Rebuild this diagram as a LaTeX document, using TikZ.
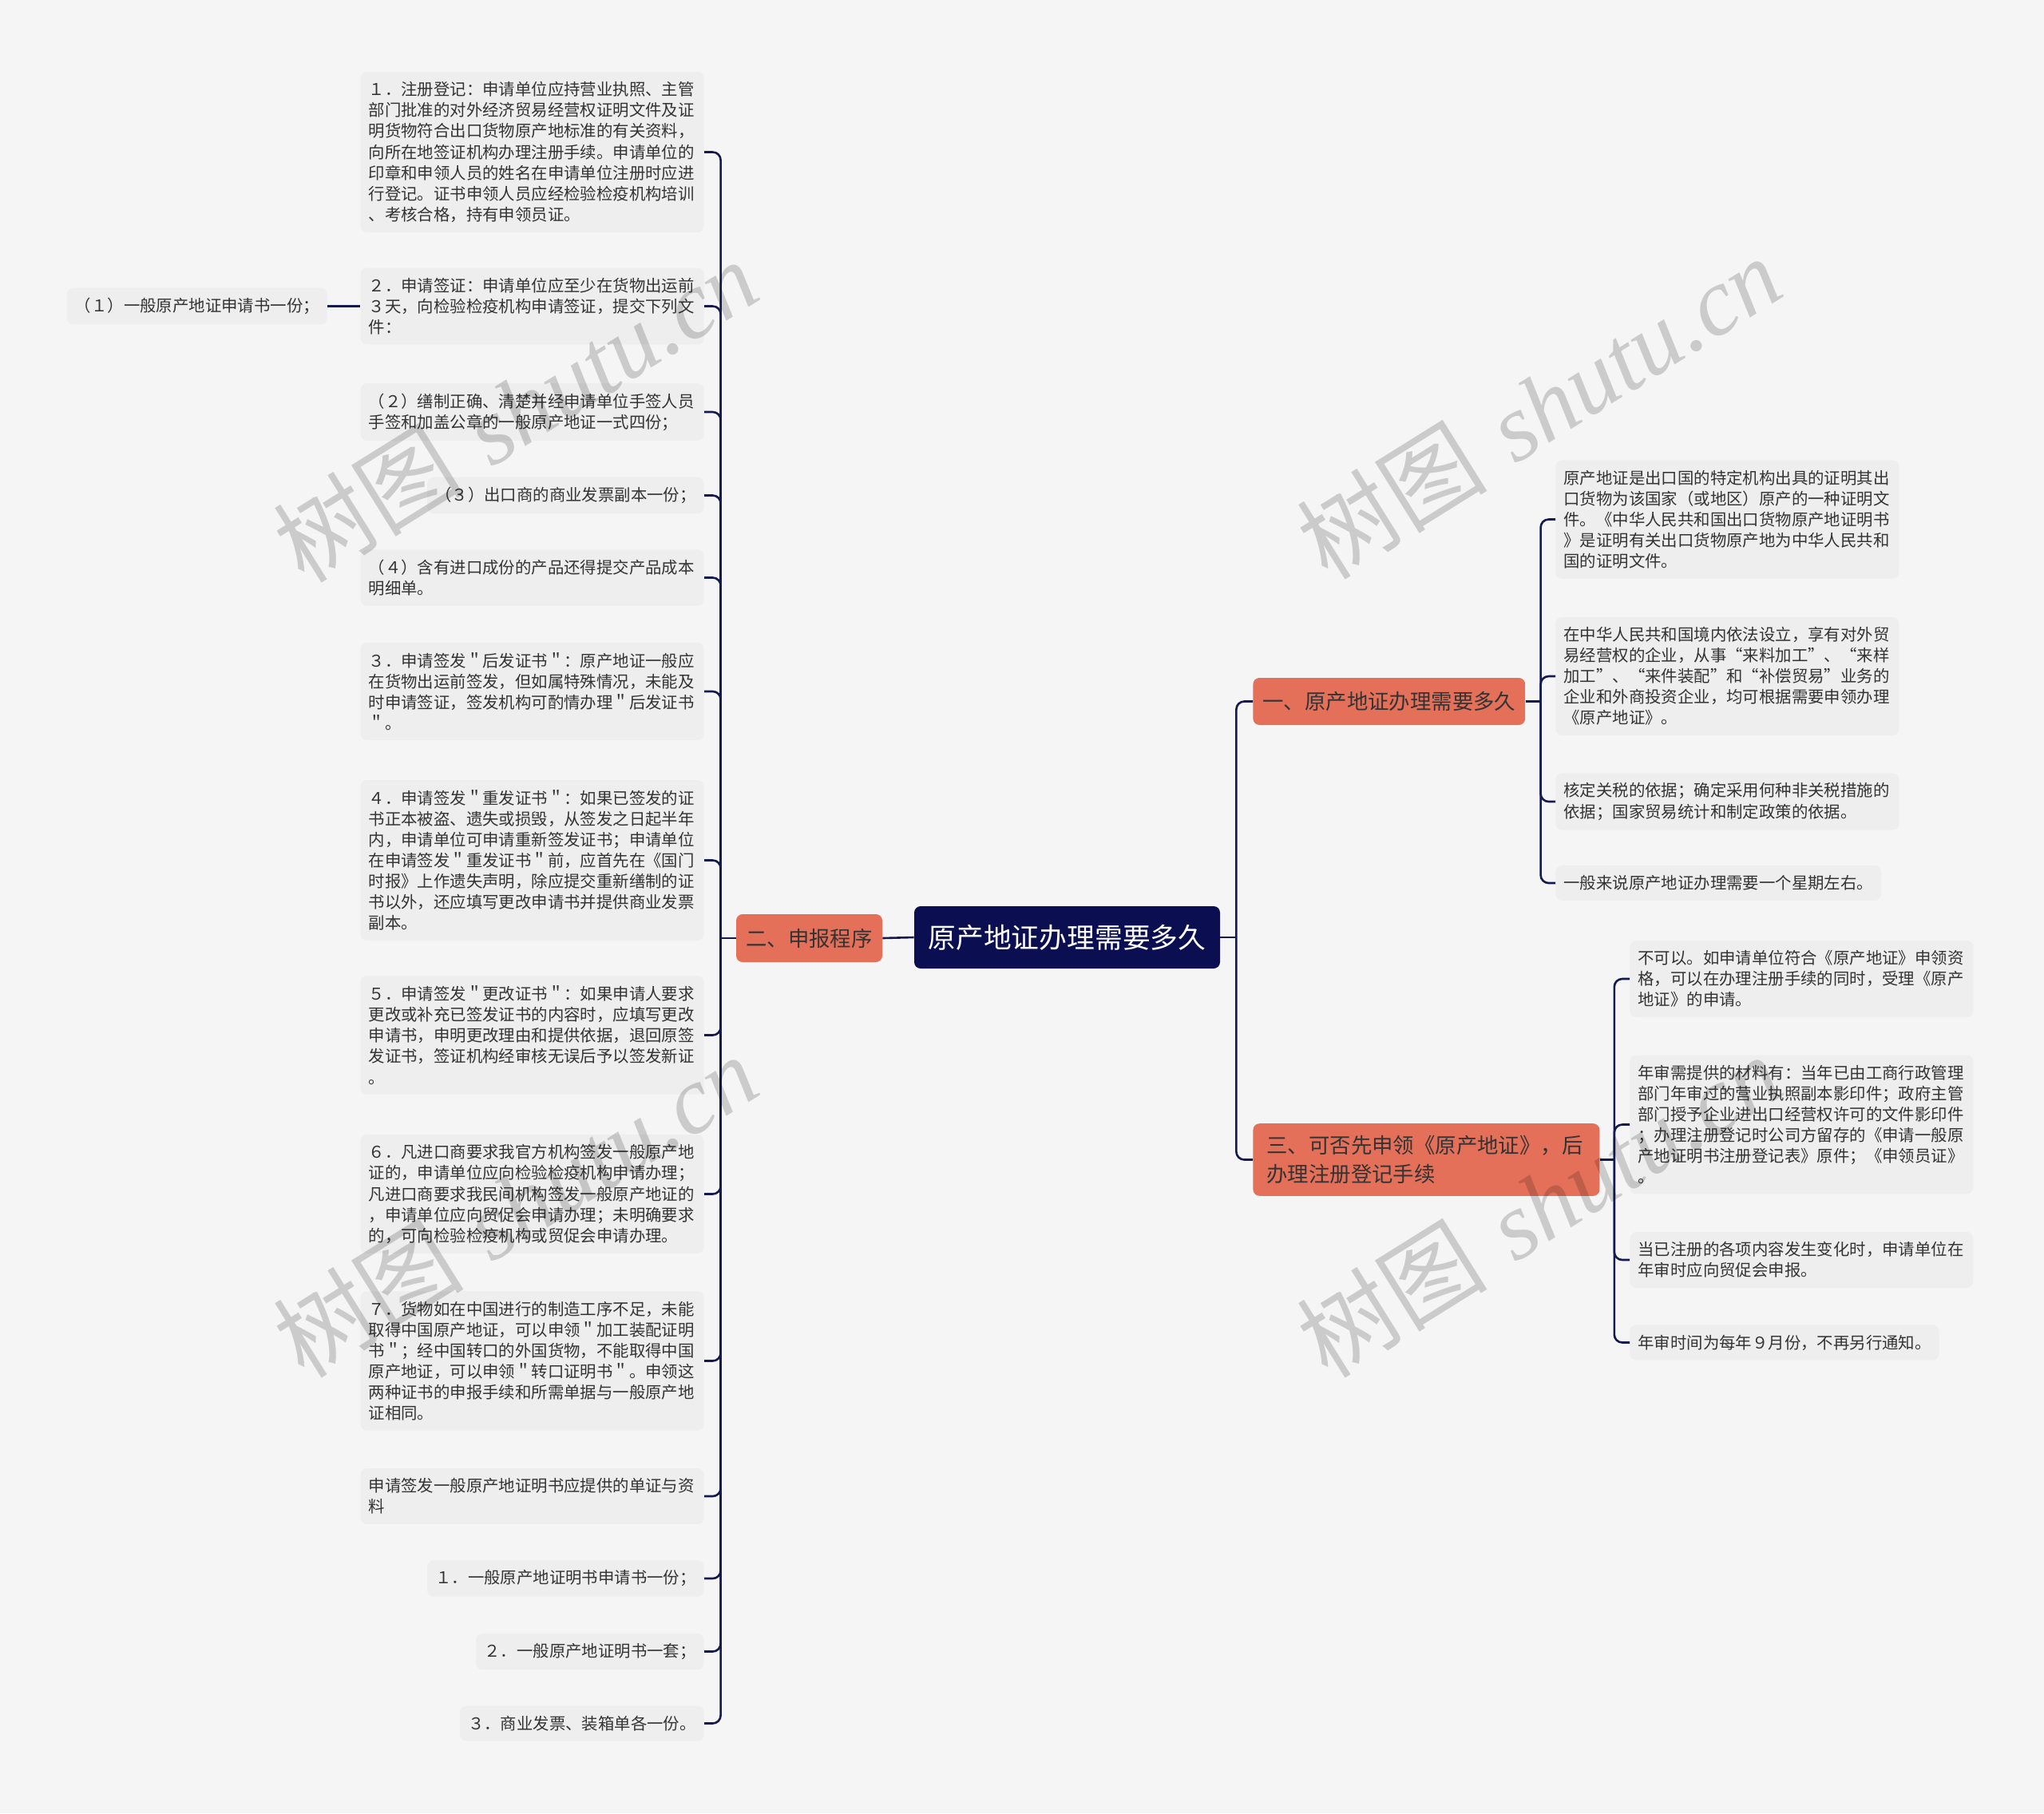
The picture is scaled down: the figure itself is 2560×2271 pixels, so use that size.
\documentclass[tikz,border=0pt]{standalone}
\usepackage{fontspec}
\newfontfamily\cjk{Noto Sans CJK SC}
\newfontfamily\wmserif{Liberation Serif}
\usetikzlibrary{positioning}
\definecolor{bgcol}{HTML}{F5F5F5}
\definecolor{leafcol}{HTML}{EEEEEE}
\definecolor{branchcol}{HTML}{E5705A}
\definecolor{rootcol}{HTML}{0B0F51}
\definecolor{linecol}{HTML}{151A4E}
\definecolor{textcol}{HTML}{333333}
\begin{document}
\begin{tikzpicture}[x=0.5pt,y=-0.5pt,
  link/.style={draw=linecol,line width=1.3pt,rounded corners=5pt},
  leafbox/.style={fill=leafcol,rounded corners=4pt,inner xsep=5pt,inner ysep=6.2pt,align=left,text=textcol,font=\cjk\fontsize{10.2}{13.05}\selectfont},
  leafwide/.style={leafbox,text width=205pt},
  branchbox/.style={fill=branchcol,rounded corners=4pt,inner xsep=6pt,inner ysep=7.5pt,text=black!80,font=\cjk\fontsize{13.2}{18}\selectfont},
  rootbox/.style={fill=rootcol,rounded corners=4pt,text=white,minimum width=191.5pt,minimum height=39pt,font=\cjk\fontsize{17.4}{20}\selectfont},
  wm/.style={black,opacity=0.17,rotate=32,font=\fontsize{60}{60}\selectfont}]
\path[use as bounding box,fill=bgcol] (0,0) rectangle (2560,2271);

\node[rootbox] (root) at (1336.5,1174) {原产地证办理需要多久};
\node[branchbox,minimum width=91.5pt,minimum height=30pt] (n2) at (1013.5,1175) {二、申报程序};
\node[branchbox,anchor=west,minimum height=29.5pt] (n1) at (1569,878.5) {一、原产地证办理需要多久};
\node[branchbox,anchor=west,text width=200pt,align=left,inner xsep=8.5pt] (n3) at (1569,1452.5) {三、可否先申领《原产地证》，后\\办理注册登记手续};

% left side
\node[leafwide,anchor=east] (l1) at (882,190.5) {１．注册登记：申请单位应持营业执照、主管\\部门批准的对外经济贸易经营权证明文件及证\\明货物符合出口货物原产地标准的有关资料，\\向所在地签证机构办理注册手续。申请单位的\\印章和申领人员的姓名在申请单位注册时应进\\行登记。证书申领人员应经检验检疫机构培训\\、考核合格，持有申领员证。};
\node[leafwide,anchor=east] (l2) at (882,383.5) {２．申请签证：申请单位应至少在货物出运前\\３天，向检验检疫机构申请签证，提交下列文\\件：};
\node[leafbox,left=20.5pt of l2] (l2a) {（１）一般原产地证申请书一份；};
\node[leafwide,anchor=east] (l3) at (882,516) {（２）缮制正确、清楚并经申请单位手签人员\\手签和加盖公章的一般原产地证一式四份；};
\node[leafbox,anchor=east] (l4) at (882,620.5) {（３）出口商的商业发票副本一份；};
\node[leafwide,anchor=east] (l5) at (882,723.5) {（４）含有进口成份的产品还得提交产品成本\\明细单。};
\node[leafwide,anchor=east] (l6) at (882,866) {３．申请签发＂后发证书＂：原产地证一般应\\在货物出运前签发，但如属特殊情况，未能及\\时申请签证，签发机构可酌情办理＂后发证书\\＂。};
\node[leafwide,anchor=east] (l7) at (882,1077.5) {４．申请签发＂重发证书＂：如果已签发的证\\书正本被盗、遗失或损毁，从签发之日起半年\\内，申请单位可申请重新签发证书；申请单位\\在申请签发＂重发证书＂前，应首先在《国门\\时报》上作遗失声明，除应提交重新缮制的证\\书以外，还应填写更改申请书并提供商业发票\\副本。};
\node[leafwide,anchor=east] (l8) at (882,1296.5) {５．申请签发＂更改证书＂：如果申请人要求\\更改或补充已签发证书的内容时，应填写更改\\申请书，申明更改理由和提供依据，退回原签\\发证书，签证机构经审核无误后予以签发新证\\。};
\node[leafwide,anchor=east] (l9) at (882,1495.5) {６．凡进口商要求我官方机构签发一般原产地\\证的，申请单位应向检验检疫机构申请办理；\\凡进口商要求我民间机构签发一般原产地证的\\，申请单位应向贸促会申请办理；未明确要求\\的，可向检验检疫机构或贸促会申请办理。};
\node[leafwide,anchor=east] (l10) at (882,1704.5) {７．货物如在中国进行的制造工序不足，未能\\取得中国原产地证，可以申领＂加工装配证明\\书＂；经中国转口的外国货物，不能取得中国\\原产地证，可以申领＂转口证明书＂。申领这\\两种证书的申报手续和所需单据与一般原产地\\证相同。};
\node[leafwide,anchor=east] (l11) at (882,1874) {申请签发一般原产地证明书应提供的单证与资\\料};
\node[leafbox,anchor=east] (l12) at (882,1977) {１．一般原产地证明书申请书一份；};
\node[leafbox,anchor=east] (l13) at (882,2068.5) {２．一般原产地证明书一套；};
\node[leafbox,anchor=east] (l14) at (882,2158.5) {３．商业发票、装箱单各一份。};

% right side
\node[leafwide,anchor=west] (r1a) at (1948,650.5) {原产地证是出口国的特定机构出具的证明其出\\口货物为该国家（或地区）原产的一种证明文\\件。《中华人民共和国出口货物原产地证明书\\》是证明有关出口货物原产地为中华人民共和\\国的证明文件。};
\node[leafwide,anchor=west] (r1b) at (1948,847) {在中华人民共和国境内依法设立，享有对外贸\\易经营权的企业，从事“来料加工”、“来样\\加工”、“来件装配”和“补偿贸易”业务的\\企业和外商投资企业，均可根据需要申领办理\\《原产地证》。};
\node[leafwide,anchor=west] (r1c) at (1948,1004) {核定关税的依据；确定采用何种非关税措施的\\依据；国家贸易统计和制定政策的依据。};
\node[leafbox,anchor=west] (r1d) at (1948,1106) {一般来说原产地证办理需要一个星期左右。};
\node[leafwide,anchor=west] (r3a) at (2041,1226) {不可以。如申请单位符合《原产地证》申领资\\格，可以在办理注册手续的同时，受理《原产\\地证》的申请。};
\node[leafwide,anchor=west] (r3b) at (2041,1408.5) {年审需提供的材料有：当年已由工商行政管理\\部门年审过的营业执照副本影印件；政府主管\\部门授予企业进出口经营权许可的文件影印件\\；办理注册登记时公司方留存的《申请一般原\\产地证明书注册登记表》原件；《申领员证》\\。};
\node[leafwide,anchor=west] (r3c) at (2041,1578) {当已注册的各项内容发生变化时，申请单位在\\年审时应向贸促会申报。};
\node[leafbox,anchor=west] (r3d) at (2041,1681.5) {年审时间为每年９月份，不再另行通知。};

% connectors
\coordinate (t0) at ([xshift=10pt]root.east);
\draw[link] (root.east) -- (t0);
\draw[link] (t0) |- (n1.west);
\draw[link] (t0) |- (n3.west);
\draw[link] (root.west) -- (n2.east);
\coordinate (t2) at ([xshift=-9.5pt]n2.west);
\draw[link] (n2.west) -- (t2);
\foreach \k in {l1,l2,l3,l4,l5,l6,l7,l8,l9,l10,l11,l12,l13,l14}
  \draw[link] (t2) |- (\k.east);
\draw[link] (l2.west) -- (l2a.east);
\coordinate (t1) at ([xshift=9.5pt]n1.east);
\draw[link] (n1.east) -- (t1);
\foreach \k in {r1a,r1b,r1c,r1d}
  \draw[link] (t1) |- (\k.west);
\coordinate (t3) at ([xshift=9pt]n3.east);
\draw[link] (n3.east) -- (t3);
\foreach \k in {r3a,r3b,r3c,r3d}
  \draw[link] (t3) |- (\k.west);

% watermarks
\node[wm] (wm1) at (645,514) {{\cjk 树图} {\wmserif\itshape shutu.cn}};
\node[wm] (wm2) at (1927,510) {{\cjk 树图} {\wmserif\itshape shutu.cn}};
\node[wm] (wm3) at (645,1510) {{\cjk 树图} {\wmserif\itshape shutu.cn}};
\node[wm] (wm4) at (1927,1510) {{\cjk 树图} {\wmserif\itshape shutu.cn}};
\end{tikzpicture}
\end{document}
